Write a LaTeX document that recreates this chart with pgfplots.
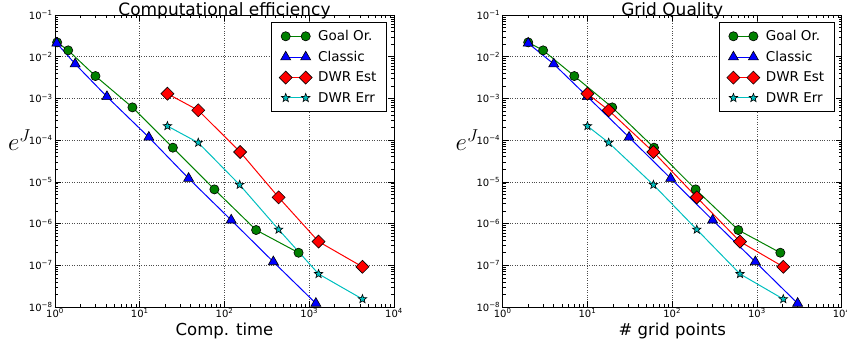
\documentclass[border=0pt]{standalone}
\usepackage{fontspec}
\setmainfont{DejaVu Sans}
\usepackage{pgfplots}
\pgfplotsset{compat=1.18}
\usetikzlibrary{plotmarks}
\pgfdeclareplotmark{fstar}{%
  \pgfpathmoveto{\pgfpointpolar{90}{\pgfplotmarksize}}%
  \pgfpathlineto{\pgfpointpolar{126}{0.42\pgfplotmarksize}}%
  \pgfpathlineto{\pgfpointpolar{162}{\pgfplotmarksize}}%
  \pgfpathlineto{\pgfpointpolar{198}{0.42\pgfplotmarksize}}%
  \pgfpathlineto{\pgfpointpolar{234}{\pgfplotmarksize}}%
  \pgfpathlineto{\pgfpointpolar{270}{0.42\pgfplotmarksize}}%
  \pgfpathlineto{\pgfpointpolar{306}{\pgfplotmarksize}}%
  \pgfpathlineto{\pgfpointpolar{342}{0.42\pgfplotmarksize}}%
  \pgfpathlineto{\pgfpointpolar{18}{\pgfplotmarksize}}%
  \pgfpathlineto{\pgfpointpolar{54}{0.42\pgfplotmarksize}}%
  \pgfpathclose
  \pgfusepathqfillstroke
}
\definecolor{mgreen}{rgb}{0,0.5,0}
\definecolor{mcyan}{rgb}{0,0.75,0.75}
\newcommand{\sups}[1]{10\textsuperscript{#1}}
\pgfplotsset{
  every axis/.append style={
    scale only axis, width=339pt, height=292pt, anchor=south west,
    xmin=1, xmax=1e4, ymin=1e-8, ymax=1e-1,
    xtick={1,10,100,1000,10000},
    xticklabels={\sups{0},\sups{1},\sups{2},\sups{3},\sups{4}},
    ytick={1e-8,1e-7,1e-6,1e-5,1e-4,1e-3,1e-2,1e-1},
    yticklabels={\sups{−8},\sups{−7},\sups{−6},\sups{−5},\sups{−4},\sups{−3},\sups{−2},\sups{−1}},
    grid=major, major grid style={dotted, black!70, line width=0.6pt},
    axis line style={line width=0.8pt},
    tick style={black, line width=0.6pt},
    major tick length=6pt, minor tick length=3pt,
    tick label style={font=\fontsize{10}{12}\selectfont},
    xticklabel style={yshift=2pt},
    yticklabel style={xshift=1pt},
    title style={font=\fontsize{17}{20}\selectfont, anchor=base, at={(axis description cs:0.5,1)}, yshift=-6.5pt},
    xlabel style={font=\fontsize{16.5}{19}\selectfont, anchor=base, at={(axis description cs:0.5,0)}, yshift=-28.7pt},
    ylabel={$e^J$},
    ylabel style={rotate=-90, font=\fontsize{27}{30}\selectfont, at={(axis description cs:-0.105,0.57)}, anchor=center},
    legend style={at={(0.979,0.976)}, anchor=north east, font=\fontsize{13.5}{16}\selectfont, draw=black, line width=0.8pt, row sep=5pt, column sep=4pt, inner xsep=8pt, inner ysep=6pt},
    legend cell align=left,
    clip=false,
  },
  sgo/.style={mgreen, line width=1pt, mark=*, mark size=4.6pt, mark options={fill=mgreen, draw=black, line width=0.6pt}},
  scl/.style={blue, line width=1pt, mark=triangle*, mark size=5.8pt, mark options={fill=blue, draw=black, line width=0.6pt}},
  sde/.style={red, line width=1pt, mark=square*, mark size=4.6pt, mark options={fill=red, draw=black, line width=0.6pt, rotate=45}},
  sdr/.style={mcyan, line width=1pt, mark=fstar, mark size=4.5pt, mark options={fill=mcyan, draw=black, line width=0.6pt}},
}
\begin{document}
\begin{tikzpicture}
\begin{loglogaxis}[at={(0pt,0pt)}, title={Computational efficiency}, xlabel={Comp. time},
  legend image code/.code={\draw[#1] plot coordinates {(0pt,0pt) (20pt,0pt)};}]
\addplot[sgo] coordinates {(1.06,0.0221)(1.43,0.0142)(3.0,0.00344)(8.2,6.1e-4)(24.6,6.6e-5)(76,6.6e-6)(236,7.0e-7)(748,2.0e-7)};
\addlegendentry{Goal Or.}
\addplot[scl] coordinates {(1.05,0.021)(1.73,0.0067)(4.1,0.0011)(12.8,1.17e-4)(37.7,1.21e-5)(120,1.21e-6)(377,1.21e-7)(1197,1.22e-8)};
\addlegendentry{Classic}
\addplot[sde] coordinates {(21.2,1.3e-3)(49,5.2e-4)(153,5.2e-5)(435,4.25e-6)(1288,3.7e-7)(4240,9.2e-8)};
\addlegendentry{DWR Est}
\addplot[sdr] coordinates {(21.2,2.18e-4)(49,8.7e-5)(151,8.5e-6)(435,7.2e-7)(1288,6.2e-8)(4240,1.55e-8)};
\addlegendentry{DWR Err}
\end{loglogaxis}
\begin{loglogaxis}[at={(447.7pt,0pt)}, title={Grid Quality}, xlabel={\# grid points},
  legend image code/.code={\draw[#1] plot coordinates {(0pt,0pt) (20pt,0pt)};}]
\addplot[sgo] coordinates {(2,0.0221)(3,0.0142)(7,0.00344)(19.6,6.1e-4)(61,6.6e-5)(189,6.6e-6)(603,7.0e-7)(1888,2.0e-7)};
\addlegendentry{Goal Or.}
\addplot[scl] coordinates {(2,0.021)(4,0.0067)(10,0.0011)(31,1.17e-4)(96,1.21e-5)(300,1.21e-6)(957,1.21e-7)(3020,1.22e-8)};
\addlegendentry{Classic}
\addplot[sde] coordinates {(10,1.3e-3)(17.8,5.2e-4)(60,5.2e-5)(195,4.25e-6)(631,3.7e-7)(2045,9.2e-8)};
\addlegendentry{DWR Est}
\addplot[sdr] coordinates {(10,2.18e-4)(17.8,8.7e-5)(60,8.5e-6)(195,7.2e-7)(631,6.2e-8)(2045,1.55e-8)};
\addlegendentry{DWR Err}
\end{loglogaxis}
\pgfresetboundingbox
\path[use as bounding box] (-55pt,-38pt) rectangle (792pt,307pt);
\end{tikzpicture}
\end{document}
